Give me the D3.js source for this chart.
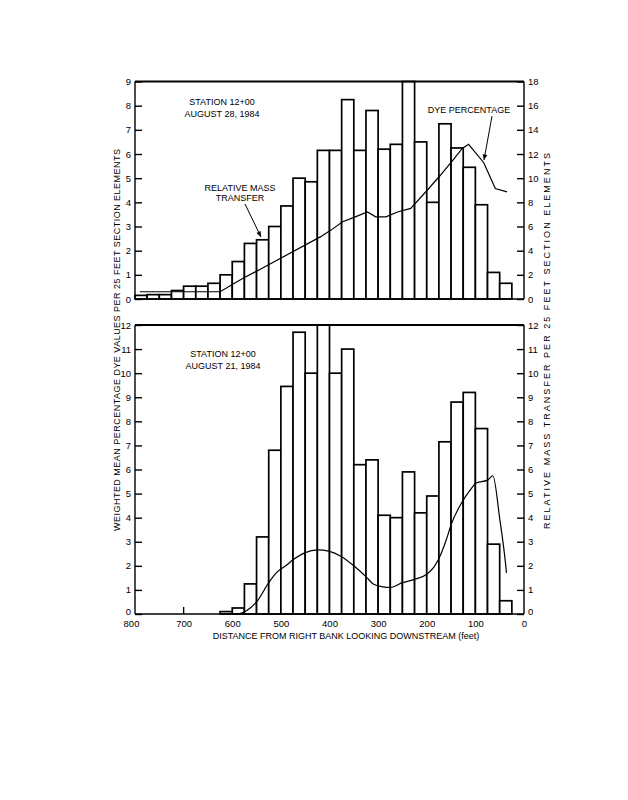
<!DOCTYPE html>
<html><head><meta charset="utf-8">
<script src="https://cdn.jsdelivr.net/npm/d3@7"></script>
<style>
html,body{margin:0;padding:0;background:#fff;}
text{font-family:"Liberation Sans",Arial,sans-serif;fill:#000;}
</style></head>
<body>
<svg id="chart" width="628" height="800"></svg>
<script>
// ---------- DATA ----------
// bin starts (feet from right bank), each bin is a 25-ft section element
const topBinStart = [800,775,750,725,700,675,650,625,600,575,550,525,500,475,450,425,400,375,350,325,300,275,250,225,200,175,150,125,100,75,50];
// relative mass transfer (right axis, 0-18), Aug 28, 1984
const topMass = [0.3,0.36,0.36,0.7,1.06,1.06,1.3,2.0,3.1,4.6,4.9,6.0,7.7,10.0,9.7,12.3,12.3,16.5,12.3,15.6,12.4,12.8,18,13.0,8.0,14.5,12.5,10.9,7.8,2.2,1.3];
// weighted mean percentage dye (left axis, 0-9), Aug 28, 1984
const topDyeDist = [790,707,625,576,549,418,397,373,347,322,305,284,260,233,199,172,144,127,114,83,59,35];
const topDyeVal  = [0.3,0.3,0.3,0.88,1.16,2.58,2.85,3.2,3.4,3.6,3.4,3.4,3.6,3.75,4.5,5.12,5.8,6.23,6.4,5.65,4.57,4.43];

const botBinStart = [625,600,575,550,525,500,475,450,425,400,375,350,325,300,275,250,225,200,175,150,125,100,75,50];
const botBars = [0.1,0.25,1.25,3.2,6.8,9.45,11.7,10.0,12,10.0,11.0,6.2,6.4,4.1,4.0,5.9,4.2,4.9,7.15,8.8,9.2,7.7,2.9,0.55];
const botCurveDist = [600,585,570,550,525,510,490,475,450,425,400,375,350,325,310,290,275,250,225,200,185,175,160,150,125,105,100,75,64,50,38,36];
const botCurveVal  = [0,0.02,0.15,0.5,1.3,1.7,2.0,2.25,2.55,2.66,2.6,2.38,2.0,1.55,1.25,1.13,1.1,1.3,1.44,1.65,1.96,2.3,3.07,3.7,4.73,5.3,5.43,5.56,5.74,3.97,2.1,1.7];

const xTicks = [800,700,600,500,400,300,200,100,0];
const topLeftTicks = [0,1,2,3,4,5,6,7,8,9];
const topRightTicks = [0,2,4,6,8,10,12,14,16,18];
const botTicks = [0,1,2,3,4,5,6,7,8,9,10,11,12];
const binWidth = 25;

// ---------- DRAW ----------
const svg = d3.select("#chart");
const x = d3.scaleLinear().domain([800,0]).range([135,524]);
const yTL = d3.scaleLinear().domain([0,9]).range([299,81.5]);
const yTR = d3.scaleLinear().domain([0,18]).range([299,81.5]);
const yB  = d3.scaleLinear().domain([0,12]).range([614,325]);
const yBR = d3.scaleLinear().domain([0,12]).range([614,325]);

function bars(g, starts, vals, y){
  g.selectAll("rect.bar").data(starts.map((s,i)=>({s,v:vals[i]}))).join("rect")
   .attr("class","bar")
   .attr("x",d=>x(d.s)).attr("width",d=>x(d.s-binWidth)-x(d.s))
   .attr("y",d=>y(d.v)).attr("height",d=>y(0)-y(d.v))
   .attr("fill","#fff").attr("stroke","#000").attr("stroke-width",1.7);
}
function frame(y0,y1){
  svg.append("line").attr("x1",x(800)).attr("x2",x(0)).attr("y1",y1).attr("y2",y1).attr("stroke","#000").attr("stroke-width",2.2);
  svg.append("line").attr("x1",x(800)).attr("x2",x(0)).attr("y1",y0).attr("y2",y0).attr("stroke","#000").attr("stroke-width",1.4);
  svg.append("line").attr("x1",x(800)).attr("x2",x(800)).attr("y1",y0).attr("y2",y1).attr("stroke","#000").attr("stroke-width",1.4);
  svg.append("line").attr("x1",x(0)).attr("x2",x(0)).attr("y1",y0).attr("y2",y1).attr("stroke","#000").attr("stroke-width",1.4);
}
function styleAxis(g){
  g.select(".domain").remove();
  g.selectAll(".tick line").attr("stroke","#000").attr("stroke-width",1.4);
  g.selectAll(".tick text").attr("font-size",9.5).attr("font-family","Liberation Sans, Arial, sans-serif");
}

// top panel
const gTop = svg.append("g");
bars(gTop, topBinStart, topMass, yTR);
gTop.append("path").datum(topDyeDist.map((d,i)=>[d,topDyeVal[i]]))
  .attr("fill","none").attr("stroke","#000").attr("stroke-width",1.2)
  .attr("d", d3.line().x(d=>x(d[0])).y(d=>yTL(d[1])));
frame(yTL(0), yTL(9));
svg.append("g").attr("transform",`translate(${x(800)},0)`)
  .call(d3.axisLeft(yTL).tickValues(topLeftTicks).tickSizeInner(-7).tickSizeOuter(0).tickPadding(4).tickFormat(d3.format("d")))
  .call(styleAxis);
svg.append("g").attr("transform",`translate(${x(0)},0)`)
  .call(d3.axisRight(yTR).tickValues(topRightTicks).tickSizeInner(-7).tickSizeOuter(0).tickPadding(4).tickFormat(d3.format("d")))
  .call(styleAxis);

// bottom panel
const gBot = svg.append("g");
svg.append("line").attr("x1",x(700)).attr("x2",x(700)).attr("y1",yB(0)).attr("y2",yB(0)-7).attr("stroke","#000").attr("stroke-width",1.4);
bars(gBot, botBinStart, botBars, yB);
gBot.append("path").datum(botCurveDist.map((d,i)=>[d,botCurveVal[i]]))
  .attr("fill","none").attr("stroke","#000").attr("stroke-width",1.2)
  .attr("d", d3.line().curve(d3.curveMonotoneX).x(d=>x(d[0])).y(d=>yBR(d[1])));
frame(yB(0), yB(12));
const gBL = svg.append("g").attr("transform",`translate(${x(800)},0)`)
  .call(d3.axisLeft(yB).tickValues(botTicks).tickSizeInner(-7).tickSizeOuter(0).tickPadding(4).tickFormat(d3.format("d")))
  .call(styleAxis);
gBL.selectAll(".tick").filter(d=>d===0).select("text").attr("dy","0.1em");
const gBR = svg.append("g").attr("transform",`translate(${x(0)},0)`)
  .call(d3.axisRight(yBR).tickValues(botTicks).tickSizeInner(-7).tickSizeOuter(0).tickPadding(4).tickFormat(d3.format("d")))
  .call(styleAxis);
gBR.selectAll(".tick").filter(d=>d===0).select("text").attr("dy","0.1em");
const gX = svg.append("g").attr("transform",`translate(0,${yB(0)})`)
  .call(d3.axisBottom(x).tickValues(xTicks).tickSize(0).tickPadding(6).tickFormat(d3.format("d")))
  .call(styleAxis);
gX.selectAll(".tick").filter(d=>d===800).select("text").attr("dx","-4");

// texts
function label(t,xp,yp,anchor){
  svg.append("text").attr("x",xp).attr("y",yp).attr("text-anchor",anchor||"middle")
    .attr("font-size",9).text(t);
}
label("STATION 12+00",222,105);
label("AUGUST 28, 1984",222,117);
label("RELATIVE MASS",240,191);
label("TRANSFER",240,201);
label("DYE PERCENTAGE",469,113);
label("STATION 12+00",223,357);
label("AUGUST 21, 1984",223,369);
label("DISTANCE FROM RIGHT BANK LOOKING DOWNSTREAM (feet)",346,639);

svg.append("text").attr("transform","translate(120,340) rotate(-90)").attr("text-anchor","middle")
  .attr("font-size",9).attr("textLength",382).attr("lengthAdjust","spacing")
  .text("WEIGHTED MEAN PERCENTAGE DYE VALUES PER 25 FEET SECTION ELEMENTS");
svg.append("text").attr("transform","translate(550,341) rotate(-90)").attr("text-anchor","middle")
  .attr("font-size",9).attr("textLength",376).attr("lengthAdjust","spacing")
  .text("RELATIVE MASS TRANSFER PER 25 FEET SECTION ELEMENTS");

// arrows
function arrow(x1,y1,x2,y2){
  svg.append("line").attr("x1",x1).attr("y1",y1).attr("x2",x2).attr("y2",y2).attr("stroke","#000").attr("stroke-width",1);
  const a = Math.atan2(y2-y1,x2-x1), L=6, w=0.4;
  const p = [[x2,y2],[x2-L*Math.cos(a-w),y2-L*Math.sin(a-w)],[x2-L*Math.cos(a+w),y2-L*Math.sin(a+w)]];
  svg.append("path").attr("d","M"+p.join("L")+"Z").attr("fill","#000");
}
arrow(245,204,261,237);
arrow(492,116,484,160);
</script>
</body></html>
